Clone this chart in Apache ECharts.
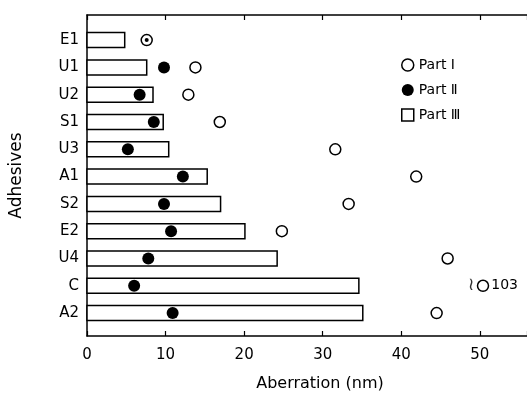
<!DOCTYPE html>
<html>
<head>
<meta charset="utf-8">
<script src="https://cdn.jsdelivr.net/npm/echarts@6/dist/echarts.min.js"></script>
<style>
  html, body { margin: 0; padding: 0; background: #fff; }
  #chart { width: 527px; height: 400px; }
</style>
</head>
<body>
<div id="chart"></div>
<script>
// adhesives, top to bottom
var adhesives = ['E1', 'U1', 'U2', 'S1', 'U3', 'A1', 'S2', 'E2', 'U4', 'C', 'A2'];
var partOne = [7.6, 13.8, 12.9, 16.9, 31.6, 41.9, 33.3, 24.8, 45.9, 103, 44.5];
var partTwo = [7.6, 9.8, 6.7, 8.5, 5.2, 12.2, 9.8, 10.7, 7.8, 6.0, 10.9];
var partThree = [4.8, 7.6, 8.4, 9.7, 10.4, 15.3, 17.0, 20.1, 24.2, 34.6, 35.1];
var xTicks = [0, 10, 20, 30, 40, 50];
var xMax = 56;
var breakAt = 50.4;   // off-scale values are drawn here with their value as label

var font = 'DejaVu Sans';
var chart = echarts.init(document.getElementById('chart'));

var partOneData = partOne.map(function (v, i) {
    return [Math.min(v, breakAt), i, v];
});
var brokenData = [];
partOne.forEach(function (v, i) {
    if (v > xMax) brokenData.push([breakAt, i, v]);
});

var option = {
    animation: false,
    grid: { left: 85, right: -5, top: 15, bottom: 64 },
    legend: {
        orient: 'vertical',
        left: 396,
        top: 53,
        itemGap: 11,
        itemWidth: 12,
        itemHeight: 12,
        textStyle: { fontFamily: font, fontSize: 14, color: '#000' },
        data: [
            { name: 'Part Ⅰ', icon: 'circle', itemStyle: { color: '#fff', borderColor: '#000', borderWidth: 1.5 } },
            { name: 'Part Ⅱ', icon: 'circle', itemStyle: { color: '#000' } },
            { name: 'Part Ⅲ', icon: 'rect', itemStyle: { color: '#fff', borderColor: '#000', borderWidth: 1.5 } }
        ]
    },
    xAxis: [{
        type: 'value',
        position: 'bottom',
        min: 0,
        max: xMax,
        interval: 10,
        name: 'Aberration (nm)',
        nameLocation: 'middle',
        nameGap: 40,
        nameTextStyle: { fontFamily: font, fontSize: 16, color: '#000', padding: [0, 0, 0, 26] },
        axisLine: { onZero: false, lineStyle: { color: '#000', width: 1.5 } },
        axisTick: { inside: true, length: 5, lineStyle: { color: '#000', width: 1.2 } },
        axisLabel: {
            fontFamily: font, fontSize: 15, color: '#000', margin: 12,
            customValues: xTicks
        },
        splitLine: { show: false }
    }, {
        type: 'value',
        position: 'top',
        min: 0,
        max: xMax,
        interval: 10,
        axisLine: { onZero: false, lineStyle: { color: '#000', width: 1.5 } },
        axisTick: { inside: true, length: 5, lineStyle: { color: '#000', width: 1.2 } },
        axisLabel: { show: false },
        splitLine: { show: false }
    }],
    yAxis: {
        type: 'value',
        inverse: true,
        min: -0.92,
        max: 10.84,
        name: 'Adhesives',
        nameLocation: 'middle',
        nameGap: 62,
        nameTextStyle: { fontFamily: font, fontSize: 17, color: '#000' },
        axisLine: { show: true, onZero: false, lineStyle: { color: '#000', width: 1.5 } },
        axisTick: { show: false },
        axisLabel: {
            fontFamily: font, fontSize: 15, color: '#000', margin: 8,
            customValues: adhesives.map(function (c, i) { return i; }),
            formatter: function (v) { return adhesives[Math.round(v)] || ''; }
        },
        splitLine: { show: false }
    },
    series: [{
        name: 'Part Ⅲ',
        type: 'custom',
        z: 2,
        itemStyle: { color: '#fff', borderColor: '#000', borderWidth: 1.5 },
        renderItem: function (params, api) {
            var start = api.coord([0, api.value(1)]);
            var end = api.coord([api.value(0), api.value(1)]);
            var h = api.size([0, 1])[1] * 0.55;
            return {
                type: 'rect',
                shape: { x: start[0], y: start[1] - h / 2, width: end[0] - start[0], height: h },
                style: { fill: '#fff', stroke: '#000', lineWidth: 1.5 }
            };
        },
        encode: { x: 0, y: 1 },
        data: partThree.map(function (v, i) { return [v, i]; })
    }, {
        name: 'Part Ⅰ',
        type: 'scatter',
        z: 3,
        symbol: 'circle',
        symbolSize: 11,
        itemStyle: { color: '#fff', borderColor: '#000', borderWidth: 1.5, opacity: 1 },
        label: {
            show: true,
            position: 'right',
            distance: 2,
            fontFamily: font,
            fontSize: 14,
            color: '#000',
            // only the off-scale point carries its real value
            formatter: function (p) { return p.value[2] > xMax ? String(p.value[2]) : ''; }
        },
        data: partOneData
    }, {
        name: 'Part Ⅱ',
        type: 'scatter',
        z: 4,
        symbol: 'circle',
        symbolSize: function (val, params) {
            // where Part II coincides with Part I it shows as a dot inside the open circle
            return partTwo[params.dataIndex] === partOne[params.dataIndex] ? 4 : 12;
        },
        itemStyle: { color: '#000', opacity: 1 },
        data: partTwo.map(function (v, i) { return [v, i]; })
    }, {
        name: 'break',
        type: 'scatter',
        z: 5,
        symbol: 'circle',
        symbolSize: 11,
        silent: true,
        itemStyle: { color: 'rgba(0,0,0,0)' },
        label: {
            show: true,
            position: 'left',
            distance: 3,
            fontFamily: font,
            fontSize: 18,
            color: '#000',
            formatter: '≀'
        },
        data: brokenData
    }]
};

chart.setOption(option);
</script>
</body>
</html>
